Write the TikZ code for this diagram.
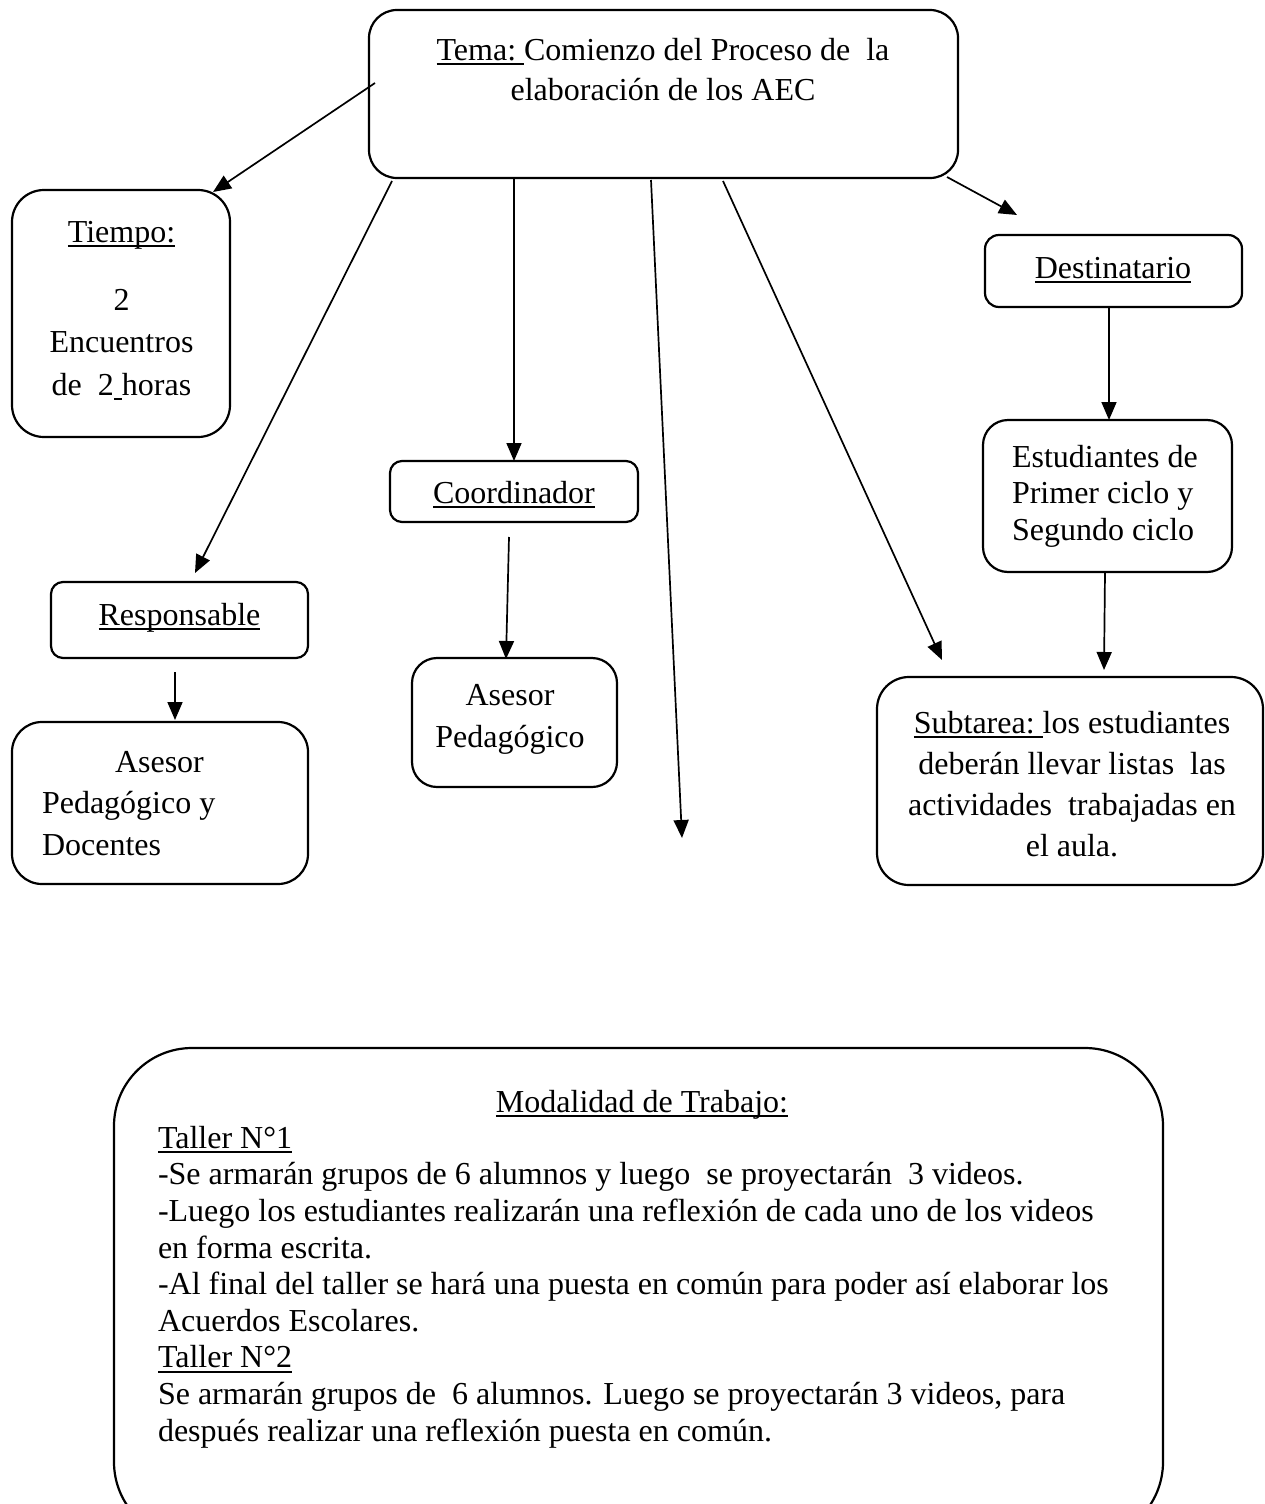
\documentclass[tikz,border=0pt]{standalone}
\usepackage{fontspec}
\setmainfont{Liberation Serif}
\usetikzlibrary{arrows.meta,calc}
\newsavebox\ulbox
\newcommand\myul[1]{\sbox\ulbox{#1}\rlap{\rule[-5pt]{\wd\ulbox}{1.8pt}}\usebox\ulbox}
\newcommand\bodyfont[1]{\fontsize{32}{#1}\selectfont}
\begin{document}
\begin{tikzpicture}[x=1pt,y=-1pt,
  rbox/.style={draw, line width=2.2pt, rounded corners=#1pt, inner sep=0pt, outer sep=0pt},
  arr/.style={-{Triangle[length=18pt,width=15pt]}, line width=1.7pt},
  txt/.style={inner sep=0pt, outer sep=0pt, font=\bodyfont{#1}},
  txt/.default=42]
\useasboundingbox (0,0) rectangle (1264,1504);
\clip (0,0) rectangle (1264,1504);
% boxes
\node[rbox=28, minimum width=589pt, minimum height=168pt] (tema) at (663.5,94) {};
\node[rbox=32, minimum width=218pt, minimum height=247pt] (tiempo) at (121,313.5) {};
\node[rbox=14, minimum width=257pt, minimum height=72pt] (dest) at (1113.5,271) {};
\node[rbox=25, minimum width=249pt, minimum height=152pt] (estud) at (1107.5,496) {};
\node[rbox=32, minimum width=386pt, minimum height=208pt] (subt) at (1070,781) {};
\node[rbox=12, minimum width=248pt, minimum height=61pt] (coord) at (514,491.5) {};
\node[rbox=25, minimum width=205pt, minimum height=129pt] (asesor) at (514.5,722.5) {};
\node[rbox=12, minimum width=257pt, minimum height=76pt] (resp) at (179.5,620) {};
\node[rbox=30, minimum width=296pt, minimum height=162pt] (doc) at (160,803) {};
\node[rbox=78, minimum width=1049pt, minimum height=492pt] (mod) at (638.5,1294) {};
% texts (anchor=base refers to the last line of a multi-line node)
\node[txt=40, align=center, anchor=base] (tTema) at (663,100)
  {\myul{Tema:\ }Comienzo del Proceso de\ \ la\\elaboración de los AEC};
\node[txt, anchor=base] (tTiempo) at (121.5,242) {\myul{Tiempo:}};
\node[txt=42.5, align=center, anchor=base] (tTiempo2) at (121.5,395)
  {2\\Encuentros\\de\ \ 2\myul{\ }horas};
\node[txt, anchor=base] (tDest) at (1113,278) {\myul{Destinatario}};
\node[txt=36.5, align=left, anchor=base west] (tEstud) at (1012,540)
  {Estudiantes de\\Primer ciclo y\\Segundo ciclo};
\node[txt=41, align=center, anchor=base] (tSubt) at (1072,856)
  {\myul{Subtarea:\ }los estudiantes\\deberán llevar listas\ \ las\\actividades\ \ trabajadas en\\el aula.};
\node[txt, anchor=base] (tCoord) at (514,503) {\myul{Coordinador}};
\node[txt=42, align=center, anchor=base] (tAsesor) at (510,747)
  {Asesor\\Pedagógico};
\node[txt, anchor=base] (tResp) at (179.5,625) {\myul{Responsable}};
\node[txt=41.5, align=left, anchor=base west] (tDoc) at (42,855)
  {\hspace*{73pt}Asesor\\Pedagógico y\\Docentes};
\node[txt, anchor=base] (tMod) at (642,1112) {\myul{Modalidad de Trabajo:}};
\node[txt=36.6, align=left, anchor=base west] (tModBody) at (158,1441)
  {\myul{Taller N°1}\\
   -Se armarán grupos de 6 alumnos y luego\ \ se proyectarán\ \ 3 videos.\\
   -Luego los estudiantes realizarán una reflexión de cada uno de los videos\\
   en forma escrita.\\
   -Al final del taller se hará una puesta en común para poder así elaborar los\\
   Acuerdos Escolares.\\
   \myul{Taller N°2}\\
   Se armarán grupos de\ \ 6 alumnos. Luego se proyectarán 3 videos, para\\
   después realizar una reflexión puesta en común.};
% connectors
\draw[arr] ([shift={(6,-11)}]tema.west) -- ([shift={(-17,2)}]tiempo.north east);
\draw[arr] ([shift={(23,3)}]tema.south west) -- ([shift={(15.5,-9)}]resp.north);
\draw[arr] (tema.south -| coord.north) -- (coord.north);
\draw[arr] ([shift={(-12.5,2)}]tema.south) -- ([shift={(43.5,-210)}]mod.north);
\draw[arr] ([shift={(59.5,3)}]tema.south) -- ([shift={(65,-17)}]subt.north west);
\draw[arr] ([shift={(-11,-1)}]tema.south east) -- ([shift={(32,-20)}]dest.north west);
\draw[arr] ([shift={(-4.5,0)}]dest.south) -- ([shift={(1.5,0)}]estud.north);
\draw[arr] ([shift={(-2.5,0)}]estud.south) -- ([shift={(34,-7)}]subt.north);
\draw[arr] ([shift={(-4.5,14)}]resp.south) -- ([shift={(15,-2)}]doc.north);
\draw[arr] ([shift={(-5,15)}]coord.south) -- ([shift={(-8.5,1)}]asesor.north);
\end{tikzpicture}
\end{document}
